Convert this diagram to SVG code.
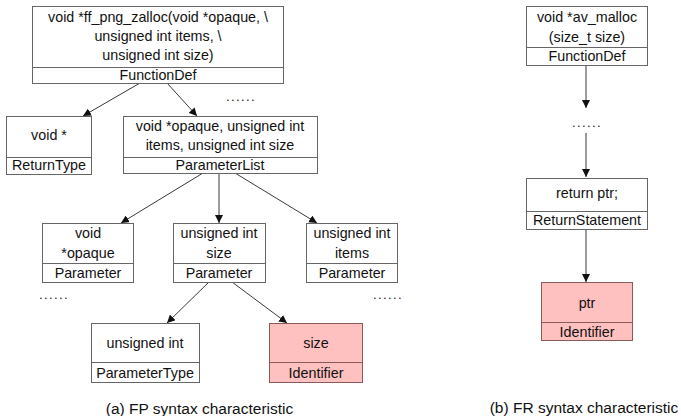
<svg xmlns="http://www.w3.org/2000/svg" width="681" height="416" viewBox="0 0 681 416">
<style>
text{font-family:"Liberation Sans",Arial,Helvetica,sans-serif;font-size:14.3px;fill:#111;text-anchor:middle}
.box{fill:#fff;stroke:#666;stroke-width:1}
.hl{fill:#ffc0c0;stroke:#8a5a5a;stroke-width:1}
.div{stroke:#666;stroke-width:1}
.divh{stroke:#8a5a5a;stroke-width:1}
.edge{stroke:#222;stroke-width:0.9;fill:none;marker-end:url(#ah)}
.dots{font-size:13px;letter-spacing:1.4px}
.cap{font-size:15.5px}
</style>
<defs>
<marker id="ah" viewBox="0 0 10 10" refX="10" refY="5" markerWidth="8" markerHeight="8" markerUnits="userSpaceOnUse" orient="auto">
<path d="M0,0 L10,5 L0,10 z" fill="#111"/>
</marker>
</defs>
<rect width="681" height="416" fill="#fff"/>
<g id="connectors">
<line class="edge" x1="140" y1="83" x2="83" y2="116"/>
<line class="edge" x1="167" y1="83" x2="197" y2="116"/>
<line class="edge" x1="203" y1="173" x2="121" y2="223"/>
<line class="edge" x1="219" y1="173" x2="219" y2="223"/>
<line class="edge" x1="235" y1="173" x2="317" y2="223"/>
<line class="edge" x1="209" y1="282" x2="167" y2="323"/>
<line class="edge" x1="232" y1="282" x2="287" y2="323"/>
<line class="edge" x1="586" y1="65" x2="586" y2="108"/>
<line class="edge" x1="586" y1="133" x2="586" y2="177"/>
<line class="edge" x1="586" y1="229" x2="586" y2="282"/>
</g>
<g id="fp-functiondef">
<rect class="box" x="32.5" y="6.5" width="251" height="77"/>
<line class="div" x1="32.5" y1="67.5" x2="283.5" y2="67.5"/>
<text x="158" y="22">void *ff_png_zalloc(void *opaque, \</text>
<text x="158" y="41">unsigned int items, \</text>
<text x="158" y="60">unsigned int size)</text>
<text x="158" y="80">FunctionDef</text>
</g>
<g id="fp-returntype">
<rect class="box" x="6.5" y="116.5" width="85" height="58"/>
<line class="div" x1="6.5" y1="157.5" x2="91.5" y2="157.5"/>
<text x="49" y="140">void *</text>
<text x="49" y="170">ReturnType</text>
</g>
<g id="fp-parameterlist">
<rect class="box" x="123.5" y="116.5" width="194" height="57"/>
<line class="div" x1="123.5" y1="157.5" x2="317.5" y2="157.5"/>
<text x="220" y="131">void *opaque, unsigned int</text>
<text x="220" y="150">items, unsigned int size</text>
<text x="220" y="170">ParameterList</text>
</g>
<g id="fp-param-opaque">
<rect class="box" x="42.5" y="223.5" width="91" height="59"/>
<line class="div" x1="42.5" y1="263.5" x2="133.5" y2="263.5"/>
<text x="88" y="238">void</text>
<text x="88" y="258">*opaque</text>
<text x="88" y="278">Parameter</text>
</g>
<g id="fp-param-size">
<rect class="box" x="173.5" y="223.5" width="92" height="59"/>
<line class="div" x1="173.5" y1="263.5" x2="265.5" y2="263.5"/>
<text x="219" y="238">unsigned int</text>
<text x="219" y="258">size</text>
<text x="219" y="278">Parameter</text>
</g>
<g id="fp-param-items">
<rect class="box" x="306.5" y="223.5" width="91" height="59"/>
<line class="div" x1="306.5" y1="263.5" x2="397.5" y2="263.5"/>
<text x="352" y="238">unsigned int</text>
<text x="352" y="258">items</text>
<text x="352" y="278">Parameter</text>
</g>
<g id="fp-parametertype">
<rect class="box" x="91.5" y="323.5" width="108" height="59"/>
<line class="div" x1="91.5" y1="362.5" x2="199.5" y2="362.5"/>
<text x="145" y="348">unsigned int</text>
<text x="145" y="378">ParameterType</text>
</g>
<g id="fp-identifier">
<rect class="hl" x="269.5" y="323.5" width="93" height="59"/>
<line class="divh" x1="269.5" y1="362.5" x2="362.5" y2="362.5"/>
<text x="316" y="348">size</text>
<text x="316" y="378">Identifier</text>
</g>
<g id="fr-functiondef">
<rect class="box" x="526.5" y="6.5" width="121" height="59"/>
<line class="div" x1="526.5" y1="47.5" x2="647.5" y2="47.5"/>
<text x="587" y="22">void *av_malloc</text>
<text x="587" y="42">(size_t size)</text>
<text x="587" y="61">FunctionDef</text>
</g>
<g id="fr-returnstatement">
<rect class="box" x="526.5" y="178.5" width="121" height="51"/>
<line class="div" x1="526.5" y1="211.5" x2="647.5" y2="211.5"/>
<text x="587" y="198">return ptr;</text>
<text x="587" y="225">ReturnStatement</text>
</g>
<g id="fr-identifier">
<rect class="hl" x="541.5" y="282.5" width="91" height="58"/>
<line class="divh" x1="541.5" y1="322.5" x2="632.5" y2="322.5"/>
<text x="587" y="308">ptr</text>
<text x="587" y="337">Identifier</text>
</g>
<g id="ellipses">
<text class="dots" x="241" y="101">......</text>
<text class="dots" x="54" y="299">......</text>
<text class="dots" x="388" y="299">......</text>
<text class="dots" x="587" y="127">......</text>
</g>
<g id="captions">
<text class="cap" x="199.5" y="414">(a) FP syntax characteristic</text>
<text class="cap" x="584" y="413">(b) FR syntax characteristic</text>
</g>
</svg>
